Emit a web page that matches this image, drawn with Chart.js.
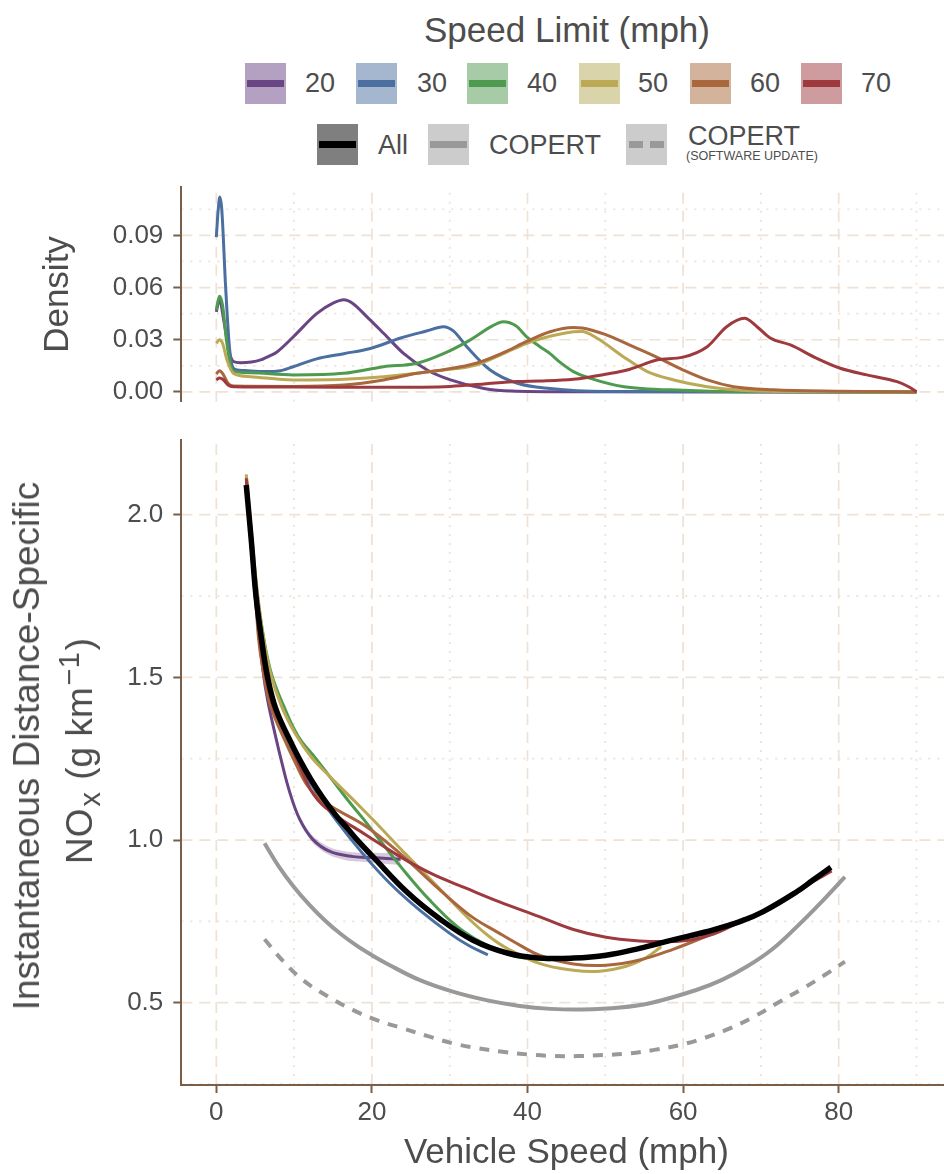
<!DOCTYPE html>
<html lang="en">
<head>
<meta charset="UTF-8">
<title>NOx by vehicle speed and speed limit</title>
<script src="https://cdn.jsdelivr.net/npm/chart.js@4.4.9/dist/chart.umd.js"></script>
<style>
  html, body { margin: 0; padding: 0; background: #fff; overflow: hidden; }
  body { position: relative; width: 944px; height: 1174px; font-family: "Liberation Sans", Arial, sans-serif; color: #4d4d4d; }
  .abs { position: absolute; white-space: nowrap; }
  canvas { position: absolute; left: 0; }
  .key { position: absolute; width: 41px; height: 41px; }
  .key i { position: absolute; left: 2px; right: 2px; top: 17px; height: 7px; }
  .lab { position: absolute; font-size: 27px; line-height: 40px; height: 40px; }
  .ytitle { position: absolute; font-size: 37px; line-height: 40px; transform: translate(-50%, -50%) rotate(-90deg); white-space: nowrap; }
  .ytitle sub, .ytitle sup { font-size: 29px; line-height: 0; margin: 0 2px; }
</style>
</head>
<body>

<div class="abs" style="left:567px; top:10px; transform:translateX(-50%); font-size:35px; line-height:40px;">Speed Limit (mph)</div>
<div id="legend"></div>

<canvas id="dens" width="960" height="232" style="top:180px"></canvas>
<canvas id="nox" width="960" height="754" style="top:420px"></canvas>

<div class="ytitle" style="left:27px; top:746px;">Instantaneous Distance-Specific</div>
<div class="ytitle" style="left:80px; top:751px;">NO<sub>x</sub> (g km<sup>&minus;1</sup>)</div>

<script>
// ---- data ----
const speedLimits = ['20', '30', '40', '50', '60', '70'];
const lineColors = ['#6a4584', '#4a6fa0', '#4e9a4f', '#bba956', '#a8673c', '#9e3a3e'];
const keyFills = ['#b4a1c2', '#a4b7cf', '#a7cba7', '#d9d4aa', '#d4b39d', '#ce9c9e'];

const xTicks = [0, 20, 40, 60, 80];
const xMinor = [10, 30, 50, 70, 90];
const densTicks = [0, 0.03, 0.06, 0.09];
const densMinor = [0.015, 0.045, 0.075, 0.105];
const noxTicks = [0.5, 1.0, 1.5, 2.0];
const noxMinor = [0.25, 0.75, 1.25, 1.75, 2.25];

// density of speed, [mph, density]
const dens20 = [[0,0.046],[0.4,0.053],[1.0,0.04],[1.6,0.024],[2.2,0.0175],[3.1,0.0168],[4.5,0.0172],[5.7,0.0184],[7.0,0.021],[7.8,0.023],[9.9,0.0317],[12.9,0.045],[15.0,0.051],[16.4,0.053],[17.5,0.051],[19.4,0.043],[21.5,0.0337],[24.1,0.022],[27.1,0.0126],[30.1,0.0069],[34.4,0.002],[38,0.0005],[45,0.0001],[90,0]];
const dens30 = [[0,0.089],[0.25,0.105],[0.45,0.112],[0.7,0.105],[1.2,0.06],[1.7,0.025],[2.2,0.0136],[3.0,0.0125],[4.4,0.012],[6.5,0.0117],[8.0,0.012],[9.9,0.0145],[12.9,0.019],[16.4,0.022],[19.8,0.025],[23.7,0.031],[27,0.035],[29.2,0.0375],[30.5,0.035],[32.2,0.026],[35.2,0.0126],[38.7,0.005],[42.9,0.002],[50,0.0003],[90,0]];
const dens40 = [[0,0.047],[0.4,0.055],[0.8,0.05],[1.3,0.03],[1.8,0.016],[2.2,0.012],[4.4,0.011],[9.9,0.0098],[16.4,0.0107],[21.5,0.0145],[25.8,0.0165],[29.2,0.022],[32.6,0.0298],[35.5,0.038],[36.9,0.0403],[38.5,0.038],[39.9,0.0317],[41.6,0.026],[42.9,0.022],[44.2,0.017],[45.9,0.0117],[48.1,0.0078],[52.4,0.003],[58.3,0.0012],[65,0.0003],[90,0]];
const dens50 = [[0,0.028],[0.4,0.030],[0.8,0.028],[1.4,0.018],[2.2,0.0107],[4.4,0.0088],[9.9,0.0069],[16.4,0.0073],[21.5,0.0088],[29.2,0.0126],[33.4,0.0155],[36.9,0.022],[39.9,0.028],[42.9,0.032],[45.9,0.0346],[47,0.0348],[48.9,0.031],[52.4,0.020],[55.4,0.0117],[58.8,0.0069],[63.1,0.003],[67.4,0.001],[75,0.0002],[90,0]];
const dens60 = [[0,0.0103],[0.4,0.0122],[0.9,0.01],[1.5,0.005],[2.2,0.0034],[9.9,0.0032],[16.4,0.004],[21.5,0.0069],[25.8,0.0107],[29.2,0.0128],[33.4,0.0165],[36.9,0.0226],[39.9,0.029],[42.9,0.0346],[45.9,0.037],[47,0.0368],[50.2,0.0327],[53.6,0.026],[56.6,0.020],[60.0,0.0126],[63.1,0.0069],[66.5,0.003],[71.6,0.0012],[80,0.0004],[90,0]];
const dens70 = [[0,0.0069],[0.4,0.008],[0.9,0.007],[1.5,0.004],[2.2,0.003],[10,0.0028],[21.5,0.0027],[30.1,0.0032],[34.4,0.0046],[38.7,0.006],[41.6,0.0063],[45.9,0.0073],[50.2,0.0103],[52.8,0.0126],[55,0.016],[56.6,0.0184],[60.0,0.020],[63.1,0.026],[65.6,0.0375],[67.9,0.0423],[69.5,0.0375],[71.2,0.031],[73.8,0.027],[77.2,0.0193],[80.2,0.0136],[83.6,0.0098],[87.5,0.0059],[89,0.003],[90,0.0002]];

// NOx (g/km) against speed, [mph, NOx]
const nox20 = [[3.9,2.10],[4.5,1.90],[5.1,1.72],[6.0,1.52],[6.6,1.43],[7.7,1.31],[8.4,1.24],[9.4,1.15],[10.7,1.065],[12.4,1.002],[14.6,0.965],[17.6,0.949],[20.1,0.946],[23.7,0.941]];
const nox30 = [[3.9,2.09],[4.5,1.91],[5.1,1.74],[5.8,1.61],[6.6,1.49],[7.6,1.40],[8.9,1.31],[10.6,1.23],[12.5,1.16],[15.4,1.061],[18.8,0.959],[22.3,0.867],[26.1,0.785],[30.0,0.713],[32.5,0.675],[34.9,0.647]];
const nox40 = [[3.9,2.11],[4.5,1.94],[5.2,1.77],[6.1,1.62],[7.1,1.51],[8.7,1.41],[10.5,1.32],[12.8,1.25],[15.0,1.182],[17.0,1.12],[19.0,1.062],[21.0,1.0],[24.4,0.898],[27.4,0.816],[30.9,0.735],[33.5,0.693],[36,0.662],[38.5,0.642],[41,0.634],[43,0.632]];
const nox50 = [[3.85,2.124],[4.5,1.95],[5.2,1.78],[6.0,1.63],[7.0,1.51],[8.4,1.41],[10.2,1.325],[12.2,1.255],[14.6,1.195],[17.0,1.138],[19.0,1.09],[21.0,1.041],[24.4,0.955],[28.3,0.86],[32.3,0.762],[35,0.705],[37.3,0.668],[41.6,0.62],[45.9,0.6],[49.3,0.597],[52.7,0.612],[55,0.635],[57.2,0.672]];
const nox60 = [[3.9,2.10],[4.5,1.90],[5.1,1.73],[5.45,1.615],[6.1,1.51],[7.0,1.41],[8.8,1.307],[10.3,1.23],[11.5,1.175],[12.8,1.137],[15.0,1.10],[19.3,1.041],[23.6,0.959],[27.8,0.867],[32.5,0.77],[36.4,0.713],[39.0,0.677],[41.6,0.645],[45.9,0.619],[50.1,0.615],[54.4,0.631],[58.7,0.664],[63.0,0.705],[67.9,0.759]];
const nox70 = [[3.85,2.112],[4.5,1.91],[5.1,1.74],[5.6,1.615],[6.3,1.51],[7.3,1.41],[9.3,1.307],[10.6,1.235],[12.5,1.14],[15.0,1.082],[19.3,1.015],[23.6,0.949],[27.8,0.895],[32.1,0.852],[36.4,0.810],[41.6,0.764],[45.9,0.725],[50.1,0.701],[54.4,0.690],[57.9,0.688],[61,0.693],[64,0.712],[67.3,0.748],[70.3,0.779],[74.6,0.838],[76.7,0.872],[79.1,0.905]];
const noxAll = [[3.85,2.091],[4.5,1.92],[5.1,1.75],[5.8,1.62],[6.6,1.50],[7.7,1.40],[9.8,1.29],[11.0,1.235],[12.2,1.185],[13.7,1.13],[15.4,1.075],[16.7,1.04],[18.3,0.995],[20.0,0.952],[24.5,0.84],[28.7,0.758],[33.0,0.692],[37.5,0.652],[41.6,0.637],[45.9,0.637],[50.1,0.646],[54.4,0.667],[58.7,0.693],[63.0,0.718],[67.3,0.749],[70.3,0.780],[74.6,0.841],[76.7,0.877],[79.0,0.916]];
const copert = [[6.2,0.99],[8,0.92],[10,0.855],[12,0.8],[14,0.752],[16,0.711],[18,0.676],[20,0.646],[22,0.619],[26.1,0.57],[30.4,0.534],[34.7,0.508],[39,0.49],[43,0.481],[47,0.479],[51.9,0.485],[56,0.5],[61.7,0.539],[65,0.57],[68.2,0.611],[71.5,0.665],[74.6,0.733],[77.8,0.81],[80.8,0.887]];
const copertUpdate = [[6.2,0.695],[8.5,0.63],[11.1,0.57],[14.3,0.52],[17.6,0.477],[20.8,0.445],[24.0,0.421],[27.2,0.397],[30.4,0.375],[33.6,0.36],[36.8,0.349],[40,0.341],[43.3,0.336],[46.5,0.336],[49.7,0.339],[53.1,0.344],[56.3,0.355],[59.6,0.37],[62.8,0.392],[66.0,0.421],[69.2,0.458],[72.4,0.503],[75.5,0.545],[78.2,0.585],[80.8,0.626]];
// confidence band of the 20 mph curve
const band20Speed = [8, 10, 12, 14, 16, 18, 20, 22, 23.7];
const band20Lo = [1.274, 1.096, 1.004, 0.961, 0.942, 0.934, 0.931, 0.926, 0.923];
const band20Hi = [1.286, 1.112, 1.024, 0.985, 0.968, 0.962, 0.961, 0.960, 0.959];

// ---- styling ----
const INK = '#4d4d4d';
const AXIS = '#7b5e47';
const GRID = '#eee1d5';
const FONT = '"Liberation Sans", Arial, sans-serif';
Chart.defaults.font.family = FONT;
Chart.defaults.color = INK;

const pts = arr => arr.map(p => ({x: p[0], y: p[1]}));

// ggplot-like grid: dashed major, dotted minor
const ggGrid = {
  id: 'ggGrid',
  beforeDraw(chart, args, o) {
    const {ctx, chartArea: a, scales} = chart;
    ctx.save();
    ctx.beginPath();
    ctx.rect(a.left, a.top, a.right - a.left, a.bottom - a.top);
    ctx.clip();
    ctx.strokeStyle = GRID;
    ctx.lineWidth = 1.7;
    const seg = (x1, y1, x2, y2, dash) => {
      ctx.setLineDash(dash);
      ctx.beginPath(); ctx.moveTo(x1, y1); ctx.lineTo(x2, y2); ctx.stroke();
    };
    o.minorY.forEach(v => { const y = scales.y.getPixelForValue(v); seg(a.left, y, a.right, y, [2, 7]); });
    o.minorX.forEach(v => { const x = scales.x.getPixelForValue(v); seg(x, a.bottom, x, a.top, [2, 7]); });
    o.majorY.forEach(v => { const y = scales.y.getPixelForValue(v); seg(a.left, y, a.right, y, [11, 7]); });
    o.majorX.forEach(v => { const x = scales.x.getPixelForValue(v); seg(x, a.bottom, x, a.top, [11, 7]); });
    ctx.restore();
  }
};

const yAxis = (min, max, ticks, digits) => ({
  type: 'linear', min: min, max: max,
  afterBuildTicks: s => { s.ticks = ticks.map(v => ({value: v})); },
  afterFit: s => { s.width = 181.3; s.paddingTop = 0; s.paddingBottom = 0; },
  grid: { drawOnChartArea: false, drawTicks: true, tickLength: 8, tickColor: AXIS, tickWidth: 2 },
  border: { display: true, color: AXIS, width: 2 },
  ticks: { font: {size: 26}, color: INK, padding: 10, callback: v => Number(v).toFixed(digits) }
});

// ---- legend ----
const legend = document.getElementById('legend');
const row1Box = [245, 356, 467, 579, 690, 801];
const row1Lab = [305, 417, 527, 638, 750, 861];
speedLimits.forEach((s, i) => {
  legend.insertAdjacentHTML('beforeend',
    `<div class="key" style="left:${row1Box[i]}px; top:63px; background:${keyFills[i]}"><i style="background:${lineColors[i]}"></i></div>` +
    `<div class="lab" style="left:${row1Lab[i]}px; top:63px">${s}</div>`);
});
legend.insertAdjacentHTML('beforeend',
  `<div class="key" style="left:317px; top:124px; background:#7f7f7f"><i style="background:#000"></i></div>` +
  `<div class="lab" style="left:378px; top:125px">All</div>` +
  `<div class="key" style="left:428px; top:124px; background:#cccccc"><i style="background:#999"></i></div>` +
  `<div class="lab" style="left:489px; top:125px">COPERT</div>` +
  `<div class="key" style="left:626px; top:124px; background:#cccccc">` +
  `<i style="background:#999; right:auto; width:14px; left:3px"></i><i style="background:#999; left:auto; width:14px; right:3px"></i></div>` +
  `<div class="lab" style="left:688px; top:118px; line-height:36px">COPERT</div>` +
  `<div class="abs" style="left:686px; top:149px; font-size:12.5px; line-height:14px">(SOFTWARE UPDATE)</div>`);

// ---- density panel ----
const densSeries = [dens20, dens30, dens40, dens50, dens60, dens70];
new Chart(document.getElementById('dens'), {
  type: 'line',
  data: {
    datasets: densSeries.map((d, i) => ({
      label: speedLimits[i], data: pts(d), borderColor: lineColors[i], borderWidth: 3,
      pointRadius: 0, fill: false, cubicInterpolationMode: 'monotone', order: 10 - i
    }))
  },
  options: {
    responsive: false, animation: false, devicePixelRatio: 1,
    layout: { padding: { top: 7.3, bottom: 10.3, right: 8.5, left: 0 } },
    plugins: { legend: { display: false }, tooltip: { enabled: false },
      ggGrid: { majorX: xTicks, minorX: xMinor, majorY: densTicks, minorY: densMinor } },
    scales: {
      x: { type: 'linear', min: -4.5, max: 94.5, display: false },
      y: Object.assign(yAxis(-0.0056, 0.1176, densTicks, 2), {
        title: { display: true, text: 'Density', color: INK, font: {size: 35, lineHeight: 1.2}, padding: {top: 37, bottom: 0} }
      })
    }
  },
  plugins: [ggGrid]
});

// ---- NOx panel ----
const noxSeries = [nox20, nox30, nox40, nox50, nox60, nox70];
const noxSets = noxSeries.map((d, i) => ({
  label: speedLimits[i], data: pts(d), borderColor: lineColors[i], borderWidth: 3,
  pointRadius: 0, fill: false, tension: 0.4, order: 10 - i
}));
noxSets.push(
  { label: 'band hi', data: band20Speed.map((s, i) => ({x: s, y: band20Hi[i]})), borderWidth: 0, pointRadius: 0,
    backgroundColor: 'rgba(106,69,132,0.28)', fill: '+1', tension: 0.4, order: 20 },
  { label: 'band lo', data: band20Speed.map((s, i) => ({x: s, y: band20Lo[i]})), borderWidth: 0, pointRadius: 0,
    fill: false, tension: 0.4, order: 21 },
  { label: 'COPERT', data: pts(copert), borderColor: '#999999', borderWidth: 4, pointRadius: 0, fill: false,
    tension: 0.4, order: 3 },
  { label: 'COPERT (software update)', data: pts(copertUpdate), borderColor: '#999999', borderWidth: 4, borderDash: [10, 9],
    pointRadius: 0, fill: false, tension: 0.4, order: 2 },
  { label: 'All', data: pts(noxAll), borderColor: '#000000', borderWidth: 5.5, pointRadius: 0, fill: false,
    tension: 0.4, order: 0 }
);

new Chart(document.getElementById('nox'), {
  type: 'line',
  data: { datasets: noxSets },
  options: {
    responsive: false, animation: false, devicePixelRatio: 1,
    layout: { padding: { top: 20, bottom: 0, right: 8.5, left: 0 } },
    plugins: { legend: { display: false }, tooltip: { enabled: false },
      ggGrid: { majorX: xTicks, minorX: xMinor, majorY: noxTicks, minorY: noxMinor } },
    scales: {
      x: {
        type: 'linear', min: -4.5, max: 94.5,
        afterBuildTicks: s => { s.ticks = xTicks.map(v => ({value: v})); },
        afterFit: s => { s.height = 89; s.paddingLeft = 0; s.paddingRight = 0; },
        grid: { drawOnChartArea: false, drawTicks: true, tickLength: 8, tickColor: AXIS, tickWidth: 2 },
        border: { display: true, color: AXIS, width: 2 },
        ticks: { font: {size: 26}, color: INK, padding: 4, maxRotation: 0 },
        title: { display: true, text: 'Vehicle Speed (mph)', color: INK, font: {size: 35, lineHeight: 1.2}, padding: {top: 0, bottom: 0} }
      },
      y: yAxis(0.247, 2.2296, noxTicks, 1)
    }
  },
  plugins: [ggGrid]
});
</script>
</body>
</html>
